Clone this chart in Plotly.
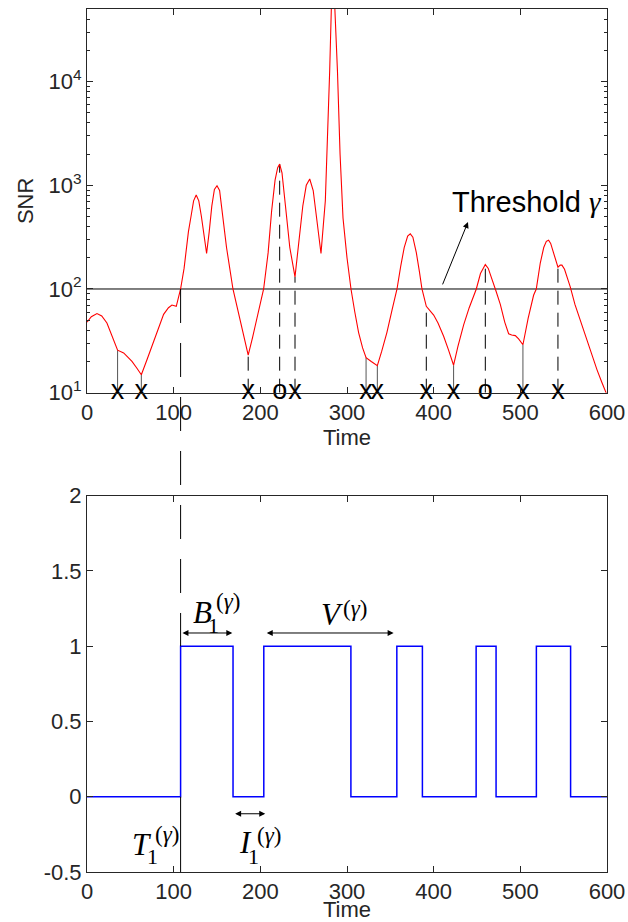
import numpy as np
import plotly.graph_objects as go

# ---------------- data ----------------
time_snr = [0, 5, 11.5, 17, 23, 30.7, 35.3, 42.3, 51.9, 57, 62.7, 69.2, 75, 80.8, 88.4, 94, 98, 103,
            108, 112, 117, 120, 123, 126, 129, 132, 135, 138, 141, 144, 147, 150, 153, 157, 161,
            168.4, 175, 181, 186, 191, 197, 203.8, 209, 213, 217, 220, 222.3, 225, 229, 234, 240,
            245, 249, 253, 257, 261, 265, 270, 275, 278, 280, 283.5, 289, 292, 295.4, 300, 304.6,
            309, 313.4, 318, 322, 328, 335, 340, 346, 352, 357.7, 362, 366, 370, 373, 376, 380,
            383.5, 386.5, 391.5, 396, 400, 405, 411.5, 417, 423, 428, 434.6, 441, 449.2, 454,
            459.6, 463, 467.3, 472, 476.9, 482, 486.5, 490, 494.2, 498, 503, 509, 515.3, 518.4,
            523, 527, 530, 532.6, 535, 538.4, 543.4, 546, 548, 551, 554, 557.6, 563, 570, 576.9,
            583, 588.5, 594, 600]
snr = [48, 54, 58, 55, 47, 33, 25.7, 24.2, 20, 17.5, 14.9, 20.8, 28, 38, 57, 66, 70, 68,
       100, 158, 355, 500, 708, 805, 708, 500, 316, 220, 355, 630, 912, 990, 890, 484, 251,
       100, 56, 35, 23, 34, 56, 100, 224, 562, 1122, 1480, 1600, 1318, 631, 251, 131,
       316, 631, 1000, 1150, 891, 501, 220, 708, 3162, 12590, 158000, 12590, 1995, 484, 200, 100,
       60, 38, 27, 21.8, 20, 18.2, 25, 38, 63, 100, 166, 251, 324, 340, 316, 224,
       148, 100, 68, 62, 56, 47, 35, 26, 18.4, 28, 45, 66, 100, 141,
       172, 158, 126, 95, 71, 48, 37, 36, 35.5, 33, 29, 52, 87, 100,
       178, 251, 288, 295, 275, 219, 162, 170, 170, 155, 132, 105, 71, 47, 32,
       22.4, 16.6, 12.6, 9.5]
threshold = 100

event_t = [35.3, 62.7, 186, 222.3, 240, 322, 335, 391.5, 423, 459.6, 503, 543.4]
event_kind = ["x", "x", "x", "o", "x", "x", "x", "x", "x", "o", "x", "x"]
event_dashed = [False, False, True, True, True, False, False, True, False, True, False, True]

burst_t = [0, 108, 168.5, 204, 304.5, 357.5, 387, 449, 472, 518.5, 558, 600]
burst_v = [0, 1, 0, 1, 0, 1, 0, 1, 0, 1, 0, 0]
first_crossing = 108

x_ticks = [0, 100, 200, 300, 400, 500, 600]
snr_ticks = [10, 100, 1000, 10000]
snr_ticktext = ["10<sup>1</sup>", "10<sup>2</sup>", "10<sup>3</sup>", "10<sup>4</sup>"]
ind_ticks = [-0.5, 0, 0.5, 1, 1.5, 2]
ind_ticktext = ["-0.5", "0", "0.5", "1", "1.5", "2"]

# ---------------- layout geometry ----------------
TOP_DOM = [0.5554, 1.0]
BOT_DOM = [0.0, 0.436]
SNR_RANGE = [1, 4.7]
IND_RANGE = [-0.5, 2]
AXC = "#262626"
FONT = "Liberation Sans, Arial, Helvetica, sans-serif"
SERIF = "Liberation Serif, DejaVu Serif, serif"
GAMMA = '<span style="font-family:Liberation Serif"><i>γ</i></span>'

fig = go.Figure()

# threshold line
fig.add_trace(go.Scatter(x=[0, 600], y=[threshold, threshold], mode="lines",
                         line=dict(color="black", width=1), xaxis="x", yaxis="y",
                         hoverinfo="skip", showlegend=False))

# event vertical lines (from axis to the curve)
log_snr = np.log10(np.array(snr, dtype=float))
ev_h = 10 ** np.interp(event_t, time_snr, log_snr)
for dashed in (False, True):
    xs, ys = [], []
    for t, h, d in zip(event_t, ev_h, event_dashed):
        if d == dashed:
            xs += [t, t, None]
            ys += [10, h, None]
    fig.add_trace(go.Scatter(x=xs, y=ys, mode="lines",
                             line=dict(color="black" if dashed else "#555555", width=1,
                                       dash="14px,8px" if dashed else "solid"),
                             xaxis="x", yaxis="y", hoverinfo="skip", showlegend=False))

# SNR curve
fig.add_trace(go.Scatter(x=time_snr, y=snr, mode="lines",
                         line=dict(color="#ff0000", width=1.1), xaxis="x", yaxis="y",
                         showlegend=False))

# event markers (x / o)
fig.add_trace(go.Scatter(x=event_t, y=[10] * len(event_t), mode="text", text=event_kind,
                         textposition="middle center",
                         textfont=dict(family=FONT, size=27, color="black"),
                         cliponaxis=False, xaxis="x", yaxis="y", showlegend=False,
                         hoverinfo="skip"))

# bottom indicator
fig.add_trace(go.Scatter(x=burst_t, y=burst_v, mode="lines", line_shape="hv",
                         line=dict(color="#0000ff", width=1.5), xaxis="x2", yaxis="y2",
                         showlegend=False))

# long dashed connector at first crossing (from threshold in top panel down to level 1 below)
y_top_paper = TOP_DOM[0] + (TOP_DOM[1] - TOP_DOM[0]) * (np.log10(threshold) - SNR_RANGE[0]) / (SNR_RANGE[1] - SNR_RANGE[0])
y_one_paper = BOT_DOM[0] + (BOT_DOM[1] - BOT_DOM[0]) * (1 - IND_RANGE[0]) / (IND_RANGE[1] - IND_RANGE[0])
fig.add_shape(type="line", xref="x", yref="paper", x0=first_crossing, x1=first_crossing,
              y0=y_top_paper, y1=y_one_paper, line=dict(color="black", width=1, dash="34px,20px"))
fig.add_shape(type="line", xref="x2", yref="y2", x0=first_crossing, x1=first_crossing,
              y0=0, y1=-0.5, line=dict(color="black", width=1))

ann = []
# Threshold label and arrow
ann.append(dict(x=419, y=2.84, xref="x", yref="y", text="Threshold " + GAMMA, showarrow=False,
                xanchor="left", yanchor="middle", font=dict(family=FONT, size=29, color="black")))
ann.append(dict(x=439.6, y=2.646, xref="x", yref="y", ax=409.6, ay=2.03, axref="x", ayref="y",
                text="", showarrow=True, arrowhead=2, arrowsize=1.2, arrowwidth=1, arrowcolor="black"))

# double arrows in bottom panel
for (x0, x1, yv) in [(108.4, 167.7, 1.088), (205.7, 353.8, 1.088), (169.2, 205.7, -0.113)]:
    ann.append(dict(x=x1, y=yv, ax=x0, ay=yv, xref="x2", yref="y2", axref="x2", ayref="y2",
                    text="", showarrow=True, arrowhead=2, arrowside="end+start",
                    arrowsize=1.2, arrowwidth=1, arrowcolor="black"))

def math_label(letter, lx, ly, sub, sx, sy, gx, gy):
    out = [dict(x=lx, y=ly, xref="x2", yref="y2", text=f"<i>{letter}</i>", showarrow=False,
                font=dict(family=SERIF, size=31, color="black"))]
    if sub is not None:
        out.append(dict(x=sx, y=sy, xref="x2", yref="y2", text=sub, showarrow=False,
                        font=dict(family=SERIF, size=22, color="black")))
    out.append(dict(x=gx, y=gy, xref="x2", yref="y2", text="(<i>γ</i>)", showarrow=False,
                    font=dict(family=SERIF, size=23, color="black")))
    return out

ann += math_label("B", 133.6, 1.227, "1", 146.5, 1.139, 162.5, 1.299)
ann += math_label("V", 282.5, 1.212, None, 0, 0, 309.6, 1.249)
ann += math_label("T", 63.2, -0.32, "1", 75.0, -0.394, 92.1, -0.251)
ann += math_label("I", 183.2, -0.307, "1", 192.0, -0.40, 209.8, -0.257)

axis_common = dict(showgrid=False, zeroline=False, showline=True, mirror="ticks",
                   linecolor=AXC, linewidth=1, ticks="inside", ticklen=6, tickcolor=AXC,
                   automargin=False,
                   tickfont=dict(family=FONT, size=22, color=AXC))

fig.update_layout(
    template="none",
    width=628, height=922,
    margin=dict(l=87, r=21, t=9, b=50, pad=0),
    paper_bgcolor="white", plot_bgcolor="white",
    font=dict(family=FONT, color=AXC),
    showlegend=False,
    xaxis=dict(domain=[0, 1], anchor="y", range=[0, 600], tickvals=x_ticks,
               title=dict(text="Time", standoff=0, font=dict(size=22, color=AXC)), **axis_common),
    yaxis=dict(domain=TOP_DOM, anchor="x", type="log", range=SNR_RANGE, tickvals=snr_ticks,
               ticktext=snr_ticktext,
               minor=dict(ticks="inside", ticklen=3, tickcolor=AXC, dtick="D1"),
               title=dict(text="SNR", standoff=8, font=dict(size=22, color=AXC)), **axis_common),
    xaxis2=dict(domain=[0, 1], anchor="y2", range=[0, 600], tickvals=x_ticks,
                title=dict(text="Time", standoff=0, font=dict(size=22, color=AXC)), **axis_common),
    yaxis2=dict(domain=BOT_DOM, anchor="x2", range=IND_RANGE, tickvals=ind_ticks,
                ticktext=ind_ticktext, **axis_common),
    annotations=ann,
)

fig.write_html("out.html")
